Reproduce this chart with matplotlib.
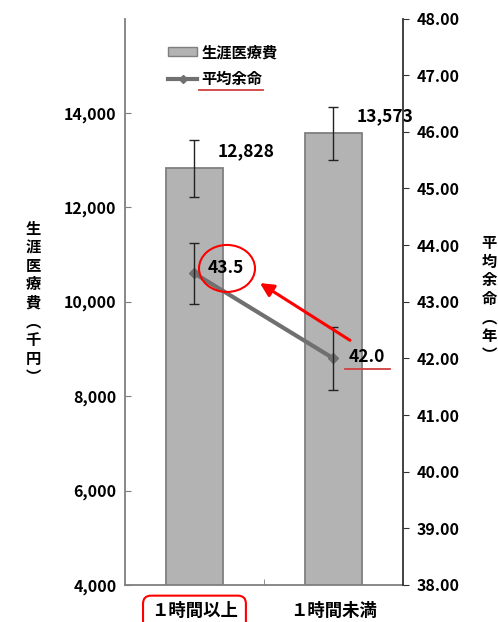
import matplotlib
matplotlib.use("Agg")
import matplotlib.pyplot as plt
import matplotlib.transforms as mtransforms
from matplotlib.patches import Ellipse, FancyBboxPatch, Patch
from matplotlib.lines import Line2D

plt.rcParams['font.family'] = ['Noto Sans CJK JP', 'DejaVu Sans']
plt.rcParams['font.weight'] = 'bold'

# data
categories = ["１時間以上", "１時間未満"]
cost = [12828, 13573]          # 生涯医療費（千円）
cost_err = [600, 560]
life = [43.5, 42.0]            # 平均余命（年）
life_err = [0.54, 0.55]
cost_ticks = [4000, 6000, 8000, 10000, 12000, 14000]
life_ticks = [38, 39, 40, 41, 42, 43, 44, 45, 46, 47, 48]

fig = plt.figure(figsize=(4.98, 6.22), dpi=100)
ax = fig.add_axes([0.251, 0.0595, 0.558, 0.9107])
ax2 = ax.twinx()

x = list(range(len(categories)))
ax.bar(x, cost, width=0.41, color='#b3b3b3', edgecolor='#7f7f7f', linewidth=1.3, zorder=2)
ax.errorbar(x, cost, yerr=cost_err, fmt='none', ecolor='#222222', elinewidth=1.0,
            capsize=3.5, capthick=1.0, zorder=3)

ax.set_xlim(-0.5, 1.5)
ax.set_ylim(4000, 16000)
ax.set_yticks(cost_ticks)
ax.set_yticklabels([f"{v:,}" for v in cost_ticks])
ax.set_xticks(x)
ax.set_xticklabels(categories, fontsize=12.5)
ax.set_xticks([0.5], minor=True)
ax.tick_params(axis='x', which='major', length=0, pad=12)
ax.tick_params(axis='x', which='minor', direction='in', length=4, color='#7f7f7f')
ax.tick_params(axis='y', direction='in', length=4, color='#7f7f7f', labelsize=11.5, pad=6)

for s in ['top', 'right']:
    ax.spines[s].set_visible(False)
for s in ['left', 'bottom']:
    ax.spines[s].set_color('#7f7f7f')
    ax.spines[s].set_linewidth(1.3)

ax2.plot(x, life, color='#707070', lw=3, marker='D', ms=5, zorder=4)
ax2.errorbar(x, life, yerr=life_err, fmt='none', ecolor='#222222', elinewidth=1.0,
             capsize=3.5, capthick=1.0, zorder=5)
ax2.set_ylim(38, 48)
ax2.set_yticks(life_ticks)
ax2.set_yticklabels([f"{v:.2f}" for v in life_ticks])
ax2.tick_params(axis='y', direction='out', length=4, color='#333333', labelsize=11.5, pad=6)
for s in ['top', 'left', 'bottom']:
    ax2.spines[s].set_visible(False)
ax2.spines['right'].set_color('#333333')
ax2.spines['right'].set_linewidth(1.3)

# value labels
cost_labels = []
for xi, v in zip(x, cost):
    t = ax.annotate(f"{v:,}", (xi, v), xytext=(37, 12.5), textcoords='offset points',
                    ha='center', va='center', fontsize=12.5, zorder=6)
    cost_labels.append(t)
life_offsets = [(22.7, 3.6), (24, 0.7)]
life_labels = []
for xi, v, off in zip(x, life, life_offsets):
    t = ax2.annotate(f"{v:.1f}", (xi, v), xytext=off, textcoords='offset points',
                     ha='center', va='center', fontsize=12.5, zorder=6)
    life_labels.append(t)

# arrow pointing from the lower value back to the higher one
ax2.annotate('', xy=(0.471, 43.33), xytext=(1.119, 42.32),
             arrowprops=dict(arrowstyle='-|>', color='red', lw=2.2, mutation_scale=20,
                             shrinkA=0, shrinkB=0), zorder=7)

# axis titles, stacked vertically
left_title = "生涯医療費︵千円︶"
right_title = "平均余命︵年︶"
fig.text(33 / 498, 1 - 303 / 622, "\n".join(left_title), ha='center', va='center',
         fontsize=11, linespacing=1.2)
fig.text(489 / 498, 1 - 299 / 622, "\n".join(right_title), ha='center', va='center',
         fontsize=11, linespacing=1.2)

# legend
handles = [Patch(facecolor='#b3b3b3', edgecolor='#7f7f7f', linewidth=1.0),
           Line2D([], [], color='#707070', lw=3, marker='D', ms=4)]
leg = ax.legend(handles, ["生涯医療費", "平均余命"], loc='upper left',
                bbox_to_anchor=(168 / 498, 1 - 44 / 622), bbox_transform=fig.transFigure,
                frameon=False, fontsize=11, handlelength=1.9, handleheight=0.55,
                handletextpad=0.3, labelspacing=0.7, borderpad=0, borderaxespad=0)

fig.canvas.draw()
ident = mtransforms.IdentityTransform()

# red ellipse around the first life-expectancy label
bb = life_labels[0].get_window_extent()
cx, cy = (bb.x0 + bb.x1) / 2, (bb.y0 + bb.y1) / 2
fig.add_artist(Ellipse((cx + 1, cy), 56, 47, transform=ident, fill=False,
                       edgecolor='red', lw=1.5))

# red underline under the second life-expectancy label
bb = life_labels[1].get_window_extent()
fig.add_artist(Line2D([bb.x0 - 4, bb.x1 + 5], [bb.y0 - 3, bb.y0 - 3], transform=ident,
                      color='#d04040', lw=1.3))

# red underline under the legend entry
bb = leg.get_texts()[1].get_window_extent()
fig.add_artist(Line2D([bb.x0 - 3, bb.x1], [bb.y0 - 3, bb.y0 - 3], transform=ident,
                      color='#d04040', lw=1.3))

# red rounded box around the first category label
bb = ax.get_xticklabels()[0].get_window_extent()
fig.add_artist(FancyBboxPatch((bb.x0 - 8, bb.y0 - 30), bb.width + 16, bb.height + 36,
                              boxstyle='round,pad=0,rounding_size=8', transform=ident,
                              fill=False, edgecolor='red', lw=1.5))

fig.savefig("out.png", dpi=100)
